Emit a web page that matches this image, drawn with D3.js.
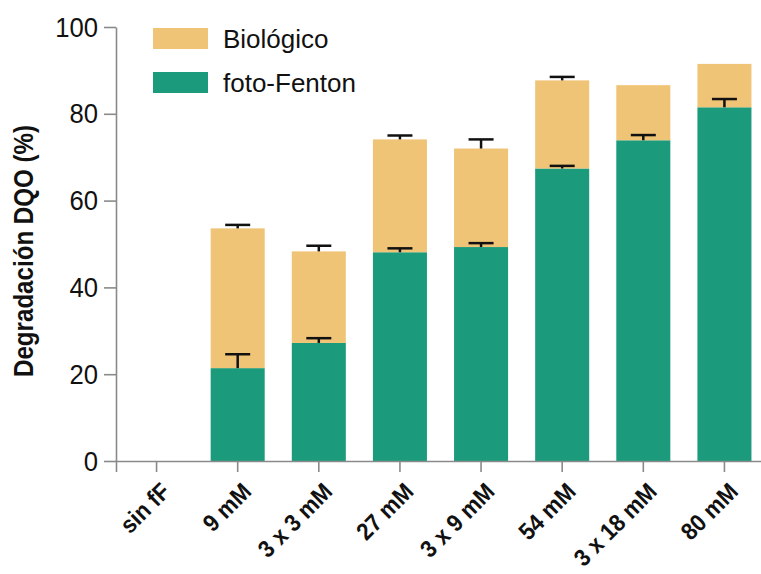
<!DOCTYPE html>
<html>
<head>
<meta charset="utf-8">
<script src="https://cdn.jsdelivr.net/npm/d3@7"></script>
<style>
  html, body { margin: 0; padding: 0; background: #fff; }
  svg { display: block; }
  text { font-family: "Liberation Sans", Arial, sans-serif; fill: #111; }
</style>
</head>
<body>
<svg id="chart" width="761" height="574"></svg>
<script>
const categories = ["sin fF", "9 mM", "3 x 3 mM", "27 mM", "3 x 9 mM", "54 mM", "3 x 18 mM", "80 mM"];
const fotoFenton = [0, 21.4, 27.2, 48.1, 49.3, 67.4, 73.9, 81.5];
const biologico = [0, 32.2, 21.1, 26.0, 22.7, 20.3, 12.7, 10.0];
const fotoFentonErr = [null, 3.2, 1.1, 0.9, 0.9, 0.6, 1.2, 1.9];
const biologicoErr = [null, 0.8, 1.3, 0.9, 2.1, 0.8, null, null];
const yTicks = [0, 20, 40, 60, 80, 100];
const seriesNames = ["Biológico", "foto-Fenton"];
const colors = { "Biológico": "#F0C476", "foto-Fenton": "#1B9B7C" };

const svg = d3.select("#chart");
const x = d3.scaleBand().domain(categories).range([116, 765]).paddingInner(0.334).paddingOuter(0.167);
const y = d3.scaleLinear().domain([0, 100]).range([461, 27]);

const rows = categories.map((c, i) => ({
  cat: c, ff: fotoFenton[i], bio: biologico[i],
  ffErr: fotoFentonErr[i], bioErr: biologicoErr[i]
}));

// bars
const g = svg.append("g");
g.selectAll("rect.ff").data(rows).join("rect")
  .attr("x", d => x(d.cat)).attr("width", x.bandwidth())
  .attr("y", d => y(d.ff)).attr("height", d => y(0) - y(d.ff))
  .attr("fill", colors["foto-Fenton"]);
g.selectAll("rect.bio").data(rows).join("rect")
  .attr("x", d => x(d.cat)).attr("width", x.bandwidth())
  .attr("y", d => y(d.ff + d.bio)).attr("height", d => y(d.ff) - y(d.ff + d.bio))
  .attr("fill", colors["Biológico"]);

// error bars (upper only)
const errs = [];
rows.forEach(d => {
  if (d.ffErr != null) errs.push({ cat: d.cat, v: d.ff, e: d.ffErr });
  if (d.bioErr != null) errs.push({ cat: d.cat, v: d.ff + d.bio, e: d.bioErr });
});
const eg = svg.append("g").attr("stroke", "#111").attr("stroke-width", 2.5).attr("fill", "none");
errs.forEach(d => {
  const cx = x(d.cat) + x.bandwidth() / 2;
  eg.append("line").attr("x1", cx).attr("x2", cx).attr("y1", y(d.v)).attr("y2", y(d.v + d.e));
  eg.append("line").attr("x1", cx - 12.5).attr("x2", cx + 12.5).attr("y1", y(d.v + d.e)).attr("y2", y(d.v + d.e));
});

// axes
const yAxis = svg.append("g").attr("transform", "translate(116,0)")
  .call(d3.axisLeft(y).tickValues(yTicks).tickSize(12).tickSizeOuter(0).tickPadding(6));
yAxis.selectAll("text").style("font-size", "27px").attr("dy", "0.34em");
yAxis.selectAll("text").each(function () {
  const L = this.getComputedTextLength();
  d3.select(this).attr("textLength", L * 0.95).attr("lengthAdjust", "spacingAndGlyphs");
});
const xAxis = svg.append("g").attr("transform", "translate(0,461)")
  .call(d3.axisBottom(x).tickSize(11).tickSizeOuter(11));
xAxis.selectAll(".tick text")
  .attr("text-anchor", "end").attr("x", 0).attr("y", 0).attr("dy", 0)
  .attr("transform", "translate(15,32) rotate(-45)")
  .style("font-size", "24px").style("font-weight", "bold");
xAxis.selectAll(".tick text").each(function () {
  const L = this.getComputedTextLength();
  d3.select(this).attr("textLength", L * 0.92).attr("lengthAdjust", "spacingAndGlyphs");
});
svg.selectAll(".domain, .tick line").attr("stroke", "#8a8a8a").attr("stroke-width", 1.6);

// y title
svg.append("text")
  .attr("transform", "translate(33,251) rotate(-90)")
  .attr("text-anchor", "middle")
  .attr("textLength", 252).attr("lengthAdjust", "spacingAndGlyphs")
  .style("font-size", "28px").style("font-weight", "bold")
  .text("Degradación DQO (%)");

// legend
const lg = svg.append("g");
seriesNames.forEach((s, i) => {
  lg.append("rect").attr("x", 153).attr("y", 28 + i * 44).attr("width", 55).attr("height", 21).attr("fill", colors[s]);
  lg.append("text").attr("x", 223).attr("y", 48 + i * 44).style("font-size", "26px").text(s);
});
</script>
</body>
</html>
